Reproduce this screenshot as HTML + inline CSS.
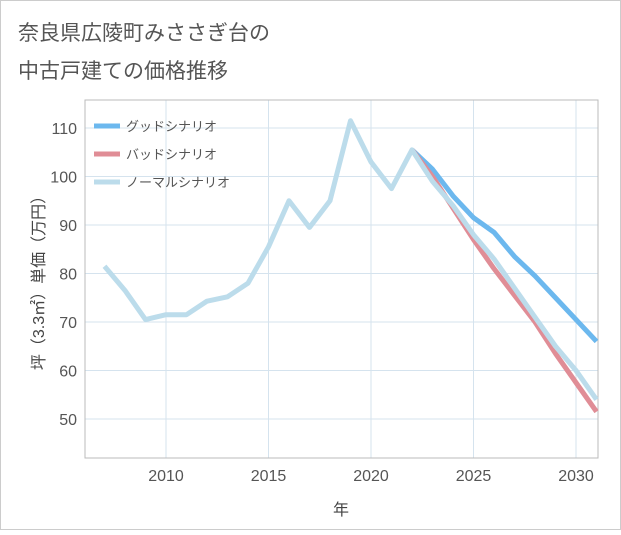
<!DOCTYPE html>
<html><head><meta charset="utf-8"><style>
body{margin:0;background:#fff;font-family:"Liberation Sans","Noto Sans CJK JP",sans-serif;}
#wrap{position:relative;width:621px;height:530px;}
</style></head><body>
<div id="wrap">
<svg id="chart" width="621" height="530" xmlns="http://www.w3.org/2000/svg">
<rect x="0.5" y="0.5" width="620" height="529" fill="#fff" stroke="#ccc"/>
<text x="18" y="40" font-size="21" fill="#555">奈良県広陵町みささぎ台の</text>
<text x="18" y="78" font-size="21" fill="#555">中古戸建ての価格推移</text>
<g id="grid"></g>
<rect x="85" y="100" width="513" height="358" fill="none" stroke="#bbb"/>
<g id="series"></g>
<g id="axes"></g>
<text x="44" y="279" font-size="16" fill="#444" text-anchor="middle" transform="rotate(-90 44 279)">坪（3.3㎡）単価（万円）</text>
<text x="341" y="515" font-size="16" fill="#444" text-anchor="middle">年</text>
<g id="legend"></g>
</svg>
</div>
<script>
const years=[2007,2008,2009,2010,2011,2012,2013,2014,2015,2016,2017,2018,2019,2020,2021,2022,2023,2024,2025,2026,2027,2028,2029,2030,2031];
const normalVals=[81.5,76.5,70.5,71.5,71.5,74.3,75.2,78,85.5,95,89.5,95,111.5,103,97.5,105.5,99,94,88,83,77,71,65,60,54];
const futureYears=[2022,2023,2024,2025,2026,2027,2028,2029,2030,2031];
const goodVals=[105.5,101.5,96,91.5,88.5,83.5,79.5,75,70.5,66];
const badVals=[105.5,100,93.5,87,81,75.5,70,63.5,57.5,51.5];
const xTicks=[2010,2015,2020,2025,2030];
const yTicks=[50,60,70,80,90,100,110];
const NS="http://www.w3.org/2000/svg";
const X=y=>166+(y-2010)*20.5;
const Y=v=>419-(v-50)*4.85;
function mk(tag,attrs,parent){const e=document.createElementNS(NS,tag);for(const k in attrs)e.setAttribute(k,attrs[k]);parent.appendChild(e);return e;}
const grid=document.getElementById('grid'),axes=document.getElementById('axes'),series=document.getElementById('series'),legend=document.getElementById('legend');
xTicks.forEach(t=>{
 const l=mk('line',{x1:X(t),x2:X(t),y1:100,y2:458,stroke:'#d5e3ee'},grid);
 
 
 const tx=mk('text',{x:X(t),y:481,'font-size':16,fill:'#555','text-anchor':'middle'},axes);
 tx.textContent=t;
 
 
});
yTicks.forEach(t=>{
 const l=mk('line',{x1:85,x2:598,y1:Y(t),y2:Y(t),stroke:'#d5e3ee'},grid);
 
 
 const tx=mk('text',{x:77,y:Y(t)+6,'font-size':16,fill:'#555','text-anchor':'end'},axes);
 tx.textContent=t;
 
 
});
function line(xs,vs,color,name){
 const p=mk('polyline',{points:xs.map((y,i)=>X(y)+','+Y(vs[i])).join(' '),fill:'none',stroke:color,'stroke-width':5,'stroke-linejoin':'round'},series);
 
 
}
line(futureYears,goodVals,'#6cb8ee','good-scenario-line');
line(futureYears,badVals,'#e08d96','bad-scenario-line');
line(years,normalVals,'#bcdceb','normal-scenario-line');
[['グッドシナリオ','#6cb8ee','legend-good'],['バッドシナリオ','#e08d96','legend-bad'],['ノーマルシナリオ','#bcdceb','legend-normal']].forEach((d,i)=>{
 const g=mk('g',{},legend);
 
 
 mk('line',{x1:94,x2:120,y1:126+i*28,y2:126+i*28,stroke:d[1],'stroke-width':5},g);
 const t=mk('text',{x:126,y:131+i*28,'font-size':13,fill:'#555'},g);
 t.textContent=d[0];
});
</script>
</body></html>
